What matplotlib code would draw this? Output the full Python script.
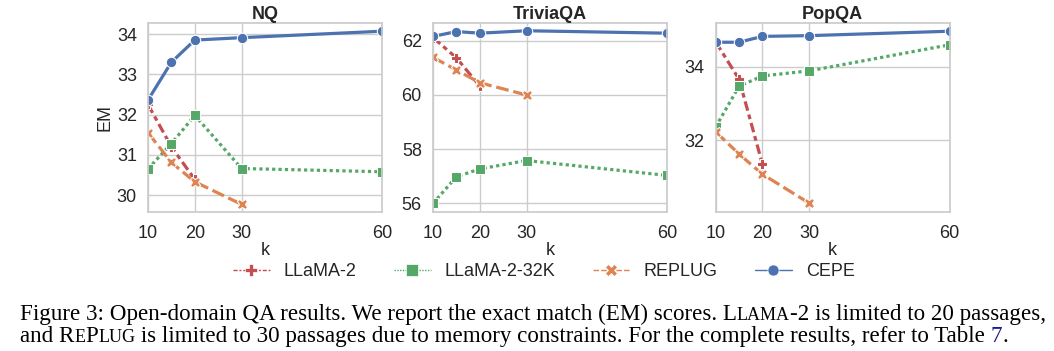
import matplotlib
matplotlib.use("Agg")
import matplotlib.pyplot as plt
from matplotlib.lines import Line2D
import seaborn as sns

sns.set_theme(style="whitegrid")
plt.rcParams['font.family'] = ['Liberation Sans', 'DejaVu Sans']

k_values = [10, 15, 20, 30, 60]
datasets = ["NQ", "TriviaQA", "PopQA"]

# values per dataset (None = not available)
llama2 = {
    "NQ": [32.25, 31.2, 30.39, None, None],
    "TriviaQA": [62.12, 61.37, 60.33, None, None],
    "PopQA": [34.68, 33.66, 31.34, None, None],
}
llama2_32k = {
    "NQ": [30.65, 31.28, 31.98, 30.66, 30.58],
    "TriviaQA": [56.0, 56.98, 57.27, 57.58, 57.03],
    "PopQA": [32.36, 33.47, 33.75, 33.89, 34.6],
}
replug = {
    "NQ": [31.55, 30.81, 30.33, 29.77, None],
    "TriviaQA": [61.39, 60.92, 60.45, 60.0, None],
    "PopQA": [32.23, 31.62, 31.07, 30.28, None],
}
cepe = {
    "NQ": [32.36, 33.30, 33.85, 33.91, 34.07],
    "TriviaQA": [62.16, 62.34, 62.28, 62.37, 62.28],
    "PopQA": [34.67, 34.67, 34.83, 34.85, 34.97],
}
series_names = ["LLaMA-2", "LLaMA-2-32K", "REPLUG", "CEPE"]
series_data = [llama2, llama2_32k, replug, cepe]

pal = sns.color_palette("deep")
styles = [
    dict(color=pal[3], marker="P", dashes=(3, 1.25, 1.5, 1.25)),
    dict(color=pal[2], marker="s", dashes=(1, 1)),
    dict(color=pal[1], marker="X", dashes=(4, 1.5)),
    dict(color=pal[0], marker="o", dashes=None),
]

ylims = {"NQ": (29.58, 34.27), "TriviaQA": (55.68, 62.65), "PopQA": (30.04, 35.19)}
yticks = {"NQ": [30, 31, 32, 33, 34], "TriviaQA": [56, 58, 60, 62], "PopQA": [32, 34]}

fig = plt.figure(figsize=(10.54, 3.51), dpi=100)
lefts = [0.1404, 0.4108, 0.679]
bottom, height = 0.396, 0.538
width = 0.222

for i, ds in enumerate(datasets):
    ax = fig.add_axes([lefts[i], bottom, width, height])
    for name, data, st in zip(series_names, series_data, styles):
        xs = [k for k, v in zip(k_values, data[ds]) if v is not None]
        ys = [v for v in data[ds] if v is not None]
        kw = dict(color=st["color"], marker=st["marker"], lw=2.3, ms=7.5,
                  markeredgecolor="white", markeredgewidth=0.75, label=name)
        if st["dashes"] is not None:
            ax.plot(xs, ys, dashes=st["dashes"], **kw)
        else:
            ax.plot(xs, ys, **kw)
    ax.set_xlim(10, 60)
    ax.set_xticks([10, 20, 30, 60])
    ax.set_ylim(*ylims[ds])
    ax.set_yticks(yticks[ds])
    ax.tick_params(axis="x", labelsize=13, pad=3.5)
    ax.tick_params(axis="y", labelsize=13, pad=2)
    ax.set_title(ds, fontsize=13, fontweight="bold", pad=3)
    ax.set_xlabel("k", fontsize=13, labelpad=0)
    if i == 0:
        ax.set_ylabel("EM", fontsize=13, labelpad=2)
    for s in ax.spines.values():
        s.set_color("#cccccc")

handles = []
for st in styles:
    kw = dict(color=st["color"], marker=st["marker"], lw=1.0, ms=8,
              markeredgecolor="white", markeredgewidth=0.5)
    if st["dashes"] is not None:
        handles.append(Line2D([], [], dashes=st["dashes"], **kw))
    else:
        handles.append(Line2D([], [], **kw))

fig.legend(handles=handles, labels=series_names, loc="center", ncol=4,
           bbox_to_anchor=(0.516, 0.226), frameon=False, fontsize=13,
           handlelength=2.05, columnspacing=2.05, handletextpad=0.78,
           borderpad=0.2)

# Caption with small caps
cap_font = ['Liberation Serif', 'DejaVu Serif']
fs = 16.6
sc = 0.78
line1 = [("Figure 3: Open-domain QA results. We report the exact match (EM) scores. L", 1, "black"),
         ("LAMA", sc, "black"), ("-2 is limited to 20 passages,", 1, "black")]
line2 = [("and R", 1, "black"), ("E", sc, "black"), ("P", 1, "black"), ("LUG", sc, "black"),
         (" is limited to 30 passages due to memory constraints. For the complete results, refer to Table ", 1, "black"),
         ("7", 1, "#1a1a8c"), (".", 1, "black")]
renderer = fig.canvas.get_renderer()

def draw_line(pieces, x0, y0):
    x = x0
    for txt, scale, color in pieces:
        t = fig.text(x, y0, txt, fontsize=fs * scale, family=cap_font,
                     va="baseline", ha="left", color=color)
        bb = t.get_window_extent(renderer=renderer)
        x += bb.width / fig.bbox.width
    return x

draw_line(line1, 20 / 1054, 1 - 320 / 351)
draw_line(line2, 20 / 1054, 1 - 342 / 351)

fig.savefig("out.png", dpi=100)
